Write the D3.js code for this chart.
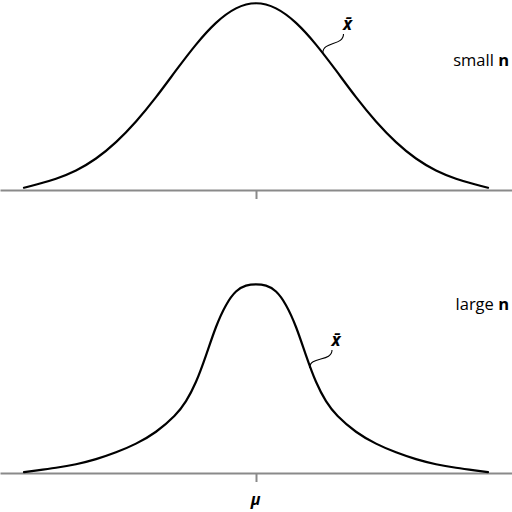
<!DOCTYPE html>
<html><head><meta charset="utf-8">
<script src="https://cdn.jsdelivr.net/npm/d3@7"></script>
<style>
html,body{margin:0;padding:0;background:#fff;}
svg{display:block;}
</style>
</head><body>
<svg id="c" width="512" height="512"></svg>
<script>
// Top panel (small n): sampled density, relative to peak
const smallX = [-2.9,-2.75,-2.5,-2.25,-2,-1.75,-1.5,-1.25,-1,-0.75,-0.5,-0.25,0,0.25,0.5,0.75,1,1.25,1.5,1.75,2,2.25,2.5,2.75,2.9];
const smallY = [0.012,0.028,0.058,0.10,0.163,0.25,0.36,0.49,0.635,0.775,0.893,0.972,1.0,0.972,0.893,0.775,0.635,0.49,0.36,0.25,0.163,0.10,0.058,0.028,0.012];
// Bottom panel (large n)
const largeX = [-2.9,-2.75,-2.5,-2.25,-2,-1.75,-1.5,-1.25,-1,-0.875,-0.75,-0.625,-0.5,-0.375,-0.25,-0.125,0,0.125,0.25,0.375,0.5,0.625,0.75,0.875,1,1.25,1.5,1.75,2,2.25,2.5,2.75,2.9];
const largeY = [0.005,0.013,0.027,0.045,0.072,0.108,0.153,0.213,0.305,0.375,0.475,0.62,0.78,0.895,0.968,0.995,1.0,0.995,0.968,0.895,0.78,0.62,0.475,0.375,0.305,0.213,0.153,0.108,0.072,0.045,0.027,0.013,0.005];
const tickVals = [0];
const panelLabels = ["small", "large"];
const meanLabel = "\u03BC";
const xbarLabel = "x\u0304";

const svg = d3.select("#c");
const x = d3.scaleLinear().domain([-3.2, 3.2]).range([0, 512]);
const yTop = d3.scaleLinear().domain([0, 1]).range([190, 1.5]);
const yBot = d3.scaleLinear().domain([0, 1]).range([473, 284]);
const gray = "#8a8a8a";

function drawAxis(y0, withLabel) {
  const ax = d3.axisBottom(x).tickValues(tickVals).tickSizeOuter(0).tickSizeInner(9)
    .tickPadding(12).tickFormat(withLabel ? () => meanLabel : () => "");
  const g = svg.append("g").attr("transform", `translate(0,${y0})`).call(ax);
  g.select(".domain").attr("stroke", gray).attr("stroke-width", 2);
  g.selectAll(".tick line").attr("stroke", gray).attr("stroke-width", 2);
  g.selectAll(".tick text").attr("fill", "#000")
    .style("font-family", "'Open Sans', sans-serif").style("font-size", "16px")
    .style("font-weight", "bold").style("font-style", "italic").attr("dx", -1);
}

function drawCurve(xs, ys, y) {
  const line = d3.line().x((d, i) => x(xs[i])).y(d => y(d)).curve(d3.curveBasis);
  svg.append("path").datum(ys).attr("d", line).attr("fill", "none")
    .attr("stroke", "#000").attr("stroke-width", 2.2).attr("stroke-linecap", "round");
}

drawAxis(190, false);
drawAxis(473, true);
drawCurve(smallX, smallY, yTop);
drawCurve(largeX, largeY, yBot);

// panel labels
function panelLabel(txt, yb) {
  const t = svg.append("text").attr("x", 509).attr("y", yb).attr("text-anchor", "end")
    .style("font-family", "'Open Sans', sans-serif").style("font-size", "16.5px");
  t.append("tspan").text(txt + " ");
  t.append("tspan").style("font-weight", "bold").text("n");
}
panelLabel(panelLabels[0], 66);
panelLabel(panelLabels[1], 310);

// x-bar leaders
function xbar(x0, y0, x1, y1) {
  svg.append("path")
    .attr("d", `M${x0},${y0} C${x0},${y0 - 12} ${x1},${y1 + 12} ${x1},${y1}`)
    .attr("fill", "none").attr("stroke", "#000").attr("stroke-width", 1.1);
  svg.append("text").attr("x", x1 + 4).attr("y", y1 - 4).attr("text-anchor", "middle")
    .style("font-family", "'Open Sans', sans-serif").style("font-size", "17px")
    .style("font-weight", "bold").style("font-style", "italic").text(xbarLabel);
}
xbar(322.8, 53, 343.5, 34);
xbar(309.6, 368, 332, 350);
</script>
</body></html>
